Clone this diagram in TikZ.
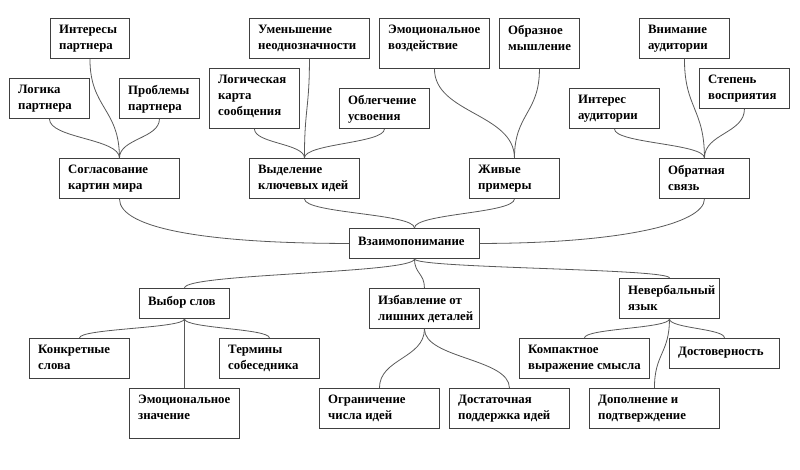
\documentclass[tikz,border=0pt]{standalone}
\usepackage{fontspec}
\setmainfont{Liberation Serif}
\usetikzlibrary{calc}

\begin{document}
\begin{tikzpicture}[
			x=1pt, y=-1pt,
			card/.style={
					draw=black!75,
					line width=0.9pt,
					anchor=north west,
					inner sep=0pt
				},
			cardtext/.style={
					anchor=north west,
					align=left,
					inner sep=0pt,
					xshift=9pt,
					yshift=-7pt,
					font=\bfseries\fontsize{12.8}{16}\selectfont
				},
			link/.style={draw=black!65, line width=0.8pt},
			branch/.style={link,
					to path={.. controls ($(\tikztostart)!0.5!(\tikztostart |- \tikztotarget)$)
							and ($(\tikztotarget)!0.5!(\tikztotarget |- \tikztostart)$) .. (\tikztotarget)}}
		]

		\useasboundingbox (0,0) rectangle (800,470);

		% upper branches
		\node[card, minimum width=79, minimum height=40,
			label={[cardtext]north west:Интересы\\партнера}] (intpart) at (50,18) {};
		\node[card, minimum width=80, minimum height=40,
			label={[cardtext]north west:Логика\\партнера}] (logpart) at (9,78) {};
		\node[card, minimum width=80, minimum height=40,
			label={[cardtext]north west:Проблемы\\партнера}] (probpart) at (119,78) {};
		\node[card, minimum width=120, minimum height=40,
			label={[cardtext]north west:Согласование\\картин мира}] (soglas) at (59,158) {};

		\node[card, minimum width=120, minimum height=40,
			label={[cardtext]north west:Уменьшение\\неоднозначности}] (umensh) at (249,18) {};
		\node[card, minimum width=90, minimum height=60,
			label={[cardtext]north west:Логическая\\карта\\сообщения}] (logkarta) at (209,68) {};
		\node[card, minimum width=90, minimum height=40,
			label={[cardtext]north west:Облегчение\\усвоения}] (oblegch) at (339,88) {};
		\node[card, minimum width=110, minimum height=40,
			label={[cardtext]north west:Выделение\\ключевых идей}] (vydel) at (249,158) {};

		\node[card, minimum width=110, minimum height=50,
			label={[cardtext]north west:Эмоциональное\\воздействие}] (emovozd) at (379,18) {};
		\node[card, minimum width=80, minimum height=50,
			label={[cardtext]north west:Образное\\мышление}] (obraz) at (499,18) {};
		\node[card, minimum width=90, minimum height=40,
			label={[cardtext]north west:Живые\\примеры}] (zhivye) at (469,158) {};

		\node[card, minimum width=90, minimum height=40,
			label={[cardtext]north west:Внимание\\аудитории}] (vniman) at (639,18) {};
		\node[card, minimum width=90, minimum height=40,
			label={[cardtext]north west:Степень\\восприятия}] (stepen) at (699,68) {};
		\node[card, minimum width=90, minimum height=40,
			label={[cardtext]north west:Интерес\\аудитории}] (interes) at (569,88) {};
		\node[card, minimum width=90, minimum height=40,
			label={[cardtext]north west:Обратная\\связь}] (obratn) at (659,158) {};

		% centre
		\node[card, minimum width=130, minimum height=30,
			label={[cardtext, yshift=-2pt]north west:Взаимопонимание}] (vzaim) at (349,228) {};

		% lower branches
		\node[card, minimum width=90, minimum height=30,
			label={[cardtext, yshift=-1pt]north west:Выбор слов}] (vybor) at (139,288) {};
		\node[card, minimum width=100, minimum height=40,
			label={[cardtext]north west:Конкретные\\слова}] (konkr) at (29,338) {};
		\node[card, minimum width=100, minimum height=40,
			label={[cardtext]north west:Термины\\собеседника}] (termin) at (219,338) {};
		\node[card, minimum width=110, minimum height=50,
			label={[cardtext]north west:Эмоциональное\\значение}] (emoznach) at (129,388) {};

		\node[card, minimum width=110, minimum height=40,
			label={[cardtext]north west:Избавление от\\лишних деталей}] (izbav) at (369,288) {};
		\node[card, minimum width=120, minimum height=40,
			label={[cardtext]north west:Ограничение\\числа идей}] (ogran) at (319,388) {};
		\node[card, minimum width=120, minimum height=40,
			label={[cardtext]north west:Достаточная\\поддержка идей}] (dostat) at (449,388) {};

		\node[card, minimum width=100, minimum height=40,
			label={[cardtext]north west:Невербальный\\язык}] (neverb) at (619,278) {};
		\node[card, minimum width=130, minimum height=40,
			label={[cardtext]north west:Компактное\\выражение смысла}] (kompakt) at (519,338) {};
		\node[card, minimum width=110, minimum height=30,
			label={[cardtext, yshift=-2pt]north west:Достоверность}] (dostov) at (669,338) {};
		\node[card, minimum width=130, minimum height=40,
			label={[cardtext]north west:Дополнение и\\подтверждение}] (dopoln) at (589,388) {};

		% connectors
		\draw[branch] (logpart.south) to (soglas.north);
		\draw[branch] (intpart.south) to (soglas.north);
		\draw[branch] (probpart.south) to (soglas.north);
		\draw[branch] (logkarta.south) to (vydel.north);
		\draw[branch] (umensh.south) to (vydel.north);
		\draw[branch] (oblegch.south) to (vydel.north);
		\draw[branch] (emovozd.south) to (zhivye.north);
		\draw[branch] (obraz.south) to (zhivye.north);
		\draw[branch] (interes.south) to (obratn.north);
		\draw[branch] (vniman.south) to (obratn.north);
		\draw[branch] (stepen.south) to (obratn.north);

		\draw[link] (soglas.south) .. controls +(0,30) and +(-140,0) .. (vzaim.west);
		\draw[branch] (vydel.south) to (vzaim.north);
		\draw[branch] (zhivye.south) to (vzaim.north);
		\draw[link] (obratn.south) .. controls +(0,25) and +(140,0) .. (vzaim.east);

		\draw[branch] (vzaim.south) to (vybor.north);
		\draw[branch] (vzaim.south) to (izbav.north);
		\draw[branch] (vzaim.south) to (neverb.north);

		\draw[branch] (vybor.south) to (konkr.north);
		\draw[branch] (vybor.south) to (emoznach.north);
		\draw[branch] (vybor.south) to (termin.north);
		\draw[branch] (izbav.south) to (ogran.north);
		\draw[branch] (izbav.south) to (dostat.north);
		\draw[branch] (neverb.south) to (kompakt.north);
		\draw[branch] (neverb.south) to (dopoln.north);
		\draw[branch] (neverb.south) to (dostov.north);

	\end{tikzpicture}
\end{document}
